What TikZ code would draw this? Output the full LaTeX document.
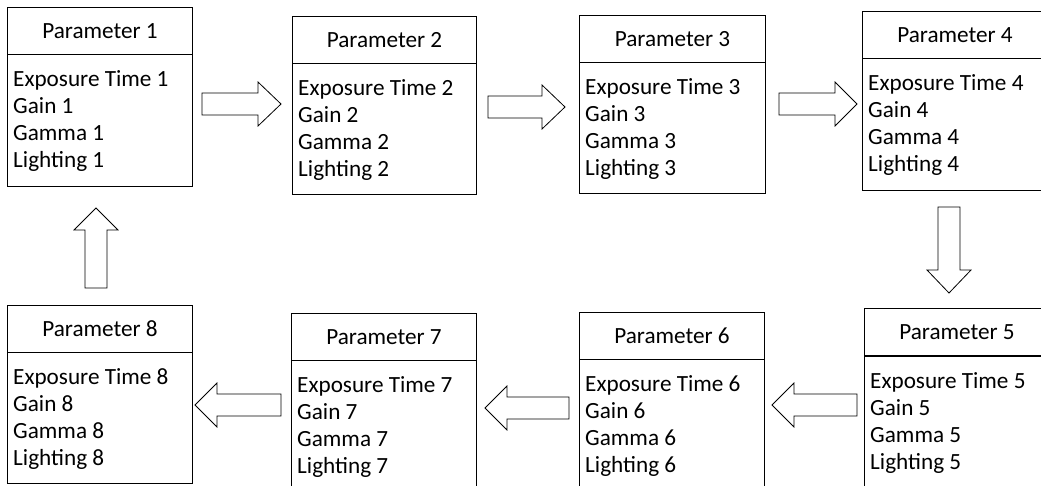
\documentclass[tikz,border=0pt]{standalone}
\usepackage{fontspec}
\setmainfont{Carlito}
\begin{document}
\begin{tikzpicture}[x=1pt,y=-1pt,
  hdr/.style={draw, line width=1pt, anchor=north west, inner sep=0pt, minimum width=#1, minimum height=47pt, font=\fontsize{23.2}{27}\selectfont},
  bodybox/.style={draw, line width=1pt, anchor=north west, inner sep=0pt},
  bodytxt/.style={anchor=north west, inner sep=0pt, align=left, font=\fontsize{23.2}{26.8}\selectfont},
  barrow/.style={draw, line width=0.8pt, fill=white, line join=miter}]
\useasboundingbox (0,0) rectangle (1041,486);
% box macro: name, left, top, divider, right, bottom, n
\newcommand\pbox[7]{%
  \node[hdr={#5-#2}] (#1h) at (#2,#3) {Parameter #7};
  \node[bodybox, minimum width=#5-#2, minimum height=#6-#4] (#1b) at (#2,#4) {};
  \node[bodytxt] (#1t) at (#2+6,#4+14) {\strut Exposure Time #7\\Gain #7\\Gamma #7\\Lighting #7};
}
\pbox{p1}{7}{7}{54}{192}{186}{1}
\pbox{p2}{292}{16}{63}{476}{194}{2}
\pbox{p3}{579}{15}{62}{765}{193}{3}
\pbox{p4}{862}{11}{58}{1047}{190}{4}
\pbox{p5}{864}{308}{356}{1049}{492}{5}
\pbox{p6}{579}{312}{359}{764}{492}{6}
\pbox{p7}{291}{313}{360}{476}{492}{7}
\pbox{p8}{7}{305}{352}{192}{483}{8}
% block arrows
\draw[barrow] (202,93) -- (258,93) -- (258,82) -- (281,104) -- (258,126) -- (258,115) -- (202,115) -- cycle;
\draw[barrow] (488,96) -- (542,96) -- (542,85) -- (565,107) -- (542,129) -- (542,118) -- (488,118) -- cycle;
\draw[barrow] (779,93) -- (835,93) -- (835,82) -- (857,104) -- (835,126) -- (835,115) -- (779,115) -- cycle;
\draw[barrow] (938,207) -- (960,207) -- (960,270) -- (971,270) -- (949,293) -- (927,270) -- (938,270) -- cycle;
\draw[barrow] (857,394) -- (794,394) -- (794,383) -- (772,405) -- (794,427) -- (794,416) -- (857,416) -- cycle;
\draw[barrow] (569,397) -- (507,397) -- (507,386) -- (485,408) -- (507,430) -- (507,419) -- (569,419) -- cycle;
\draw[barrow] (281,394) -- (217,394) -- (217,383) -- (195,405) -- (217,427) -- (217,416) -- (281,416) -- cycle;
\draw[barrow] (85,288) -- (85,230) -- (74,230) -- (96,208) -- (118,230) -- (107,230) -- (107,288) -- cycle;
\end{tikzpicture}
\end{document}
